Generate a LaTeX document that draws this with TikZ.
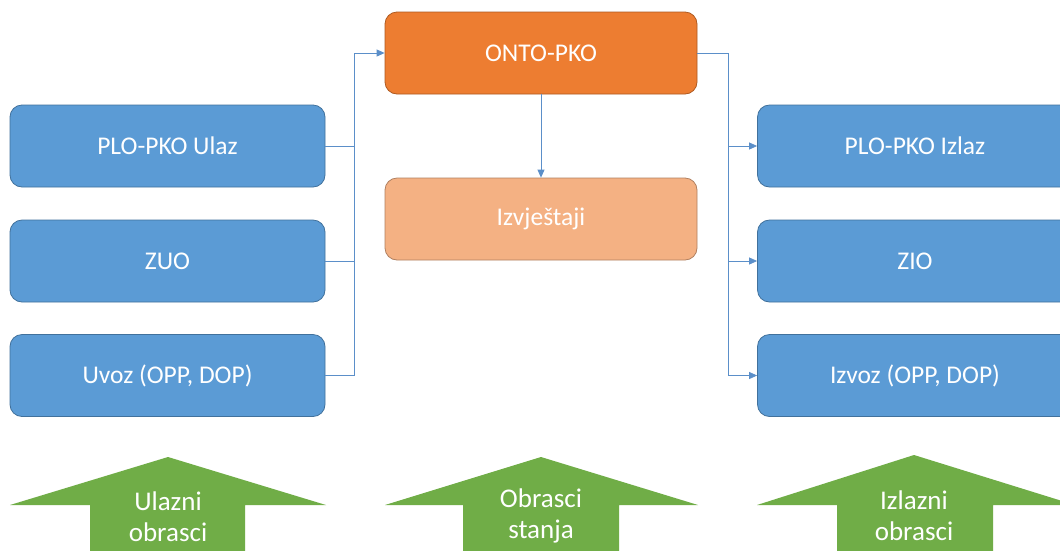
\documentclass[tikz,border=0pt]{standalone}
\usepackage{fontspec}
\setmainfont{Carlito}
\usetikzlibrary{arrows.meta}
\definecolor{boxblue}{HTML}{5B9BD5}
\definecolor{boxblueline}{HTML}{41719C}
\definecolor{ontoorange}{HTML}{ED7D31}
\definecolor{ontoline}{HTML}{AE5A21}
\definecolor{reportorange}{HTML}{F4B183}
\definecolor{reportline}{HTML}{B08060}
\definecolor{arrowgreen}{HTML}{70AD47}
\definecolor{linkblue}{HTML}{5B8FC9}
\tikzset{
  formbox/.style={draw=boxblueline, line width=0.8pt, fill=boxblue, rounded corners=12pt,
    minimum width=315pt, minimum height=82pt, inner sep=0pt, text=white,
    font=\fontsize{25.5}{30}\selectfont},
  ontobox/.style={formbox, draw=ontoline, fill=ontoorange, minimum width=312pt},
  reportbox/.style={formbox, draw=reportline, fill=reportorange, minimum width=312pt},
  link/.style={draw=linkblue, line width=0.8pt},
  linkarrow/.style={link, -{Triangle[length=8pt,width=7pt]}},
  greenarrow/.style={fill=arrowgreen, draw=none},
  arrowtext/.style={text=white, align=center, font=\fontsize{27}{31}\selectfont}
}
\begin{document}
\begin{tikzpicture}[x=1pt,y=-1pt]
\useasboundingbox (0,0) rectangle (1060,550);
\fill[white] (0,0) rectangle (1060,550);

% input forms (left column)
\node[formbox] (plou) at (167.5,146) {PLO-PKO Ulaz};
\node[formbox] (zuo)  at (167.5,261) {ZUO};
\node[formbox] (uvoz) at (167.5,375.5) {Uvoz (OPP, DOP)};

% central register and reports
\node[ontobox] (onto) at (541,53) {ONTO-PKO};
\node[reportbox] (izv) at (541,219) {Izvještaji};

% output forms (right column)
\node[formbox] (ploi) at (915,146) {PLO-PKO Izlaz};
\node[formbox] (zio)  at (915,261) {ZIO};
\node[formbox] (izvoz) at (915,375.5) {Izvoz (OPP, DOP)};

% collector bus on the left
\coordinate (lbus) at (354,0);
\draw[link] (plou.east) -- (plou.east -| lbus);
\draw[link] (zuo.east) -- (zuo.east -| lbus);
\draw[link] (uvoz.east) -- (uvoz.east -| lbus) -- (onto.west -| lbus);
\draw[linkarrow] (onto.west -| lbus) -- (onto.west);

% distribution bus on the right
\coordinate (rbus) at (728,0);
\draw[link] (onto.east) -- (onto.east -| rbus) -- (izvoz.west -| rbus);
\draw[linkarrow] (ploi.west -| rbus) -- (ploi.west);
\draw[linkarrow] (zio.west -| rbus) -- (zio.west);
\draw[linkarrow] (izvoz.west -| rbus) -- (izvoz.west);

% reports
\draw[linkarrow] (onto.south) -- (izv.north);

% block arrows at the bottom
\fill[greenarrow] (168,457) -- (326,505) -- (245,505) -- (245,560) -- (90,560) -- (90,505) -- (10,505) -- cycle;
\fill[greenarrow] (541,457) -- (698,505) -- (619,505) -- (619,560) -- (463,560) -- (463,505) -- (385,505) -- cycle;
\fill[greenarrow] (914,455) -- (1075,505) -- (993,505) -- (993,560) -- (837,560) -- (837,505) -- (757,505) -- cycle;
\node[arrowtext] (ulazni) at (168,517) {Ulazni\\obrasci};
\node[arrowtext] (stanja) at (541,516) {Obrasci\\stanja};
\node[arrowtext] (izlazni) at (914,516) {Izlazni\\obrasci};
\end{tikzpicture}
\end{document}
